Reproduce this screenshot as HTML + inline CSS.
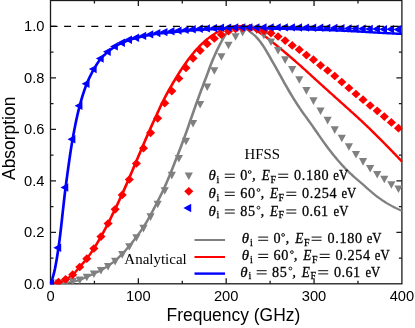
<!DOCTYPE html>
<html><head><meta charset="utf-8"><title>chart</title>
<style>html,body{margin:0;padding:0;background:#fff}svg{display:block;will-change:transform}text{white-space:pre}</style></head>
<body>
<svg width="415" height="328" viewBox="0 0 415 328">
<rect width="415" height="328" fill="#fff"/>
<defs><clipPath id="cp"><rect x="49.9" y="-0.09999999999999998" width="352.59999999999997" height="284.5"/></clipPath></defs>
<rect x="50.5" y="0.5" width="351.4" height="283.3" fill="none" stroke="#1a1a1a" stroke-width="1.3"/>
<path d="M94.42,283.8 v-3 M94.42,0.5 v3 M138.35,283.8 v-5.5 M138.35,0.5 v5.5 M182.28,283.8 v-3 M182.28,0.5 v3 M226.20,283.8 v-5.5 M226.20,0.5 v5.5 M270.12,283.8 v-3 M270.12,0.5 v3 M314.05,283.8 v-5.5 M314.05,0.5 v5.5 M357.97,283.8 v-3 M357.97,0.5 v3 M50.5,258.05 h3 M401.9,258.05 h-3 M50.5,232.30 h5.5 M401.9,232.30 h-5.5 M50.5,206.55 h3 M401.9,206.55 h-3 M50.5,180.80 h5.5 M401.9,180.80 h-5.5 M50.5,155.05 h3 M401.9,155.05 h-3 M50.5,129.30 h5.5 M401.9,129.30 h-5.5 M50.5,103.55 h3 M401.9,103.55 h-3 M50.5,77.80 h5.5 M401.9,77.80 h-5.5 M50.5,52.05 h3 M401.9,52.05 h-3 M50.5,26.30 h5.5 M401.9,26.30 h-5.5" stroke="#1a1a1a" stroke-width="1.3" fill="none"/>
<g clip-path="url(#cp)">
<g transform="scale(1.35,1)"><path d="M37.41,283.50 L38.06,283.47 L38.71,283.45 L39.36,283.42 L40.02,283.39 L40.67,283.35 L41.32,283.32 L41.97,283.28 L42.63,283.24 L43.28,283.20 L43.93,283.16 L44.58,283.12 L45.24,283.08 L45.89,283.04 L46.54,282.99 L47.19,282.94 L47.85,282.88 L48.50,282.81 L49.15,282.73 L49.80,282.64 L50.45,282.53 L51.11,282.41 L51.76,282.27 L52.41,282.13 L53.06,281.98 L53.72,281.82 L54.37,281.64 L55.02,281.45 L55.67,281.23 L56.33,281.00 L56.98,280.75 L57.63,280.50 L58.28,280.22 L58.94,279.94 L59.59,279.65 L60.24,279.33 L60.89,278.98 L61.55,278.62 L62.20,278.24 L62.85,277.86 L63.50,277.47 L64.15,277.08 L64.81,276.70 L65.46,276.30 L66.11,275.90 L66.76,275.49 L67.42,275.07 L68.07,274.65 L68.72,274.23 L69.37,273.82 L70.03,273.40 L70.68,273.00 L71.33,272.60 L71.98,272.19 L72.64,271.78 L73.29,271.36 L73.94,270.92 L74.59,270.46 L75.24,269.97 L75.90,269.46 L76.55,268.91 L77.20,268.35 L77.85,267.76 L78.51,267.17 L79.16,266.57 L79.81,265.97 L80.46,265.37 L81.12,264.78 L81.77,264.17 L82.42,263.56 L83.07,262.94 L83.73,262.29 L84.38,261.63 L85.03,260.93 L85.68,260.21 L86.34,259.44 L86.99,258.64 L87.64,257.80 L88.29,256.94 L88.94,256.07 L89.60,255.18 L90.25,254.27 L90.90,253.36 L91.55,252.44 L92.21,251.49 L92.86,250.52 L93.51,249.54 L94.16,248.54 L94.82,247.52 L95.47,246.49 L96.12,245.45 L96.77,244.38 L97.43,243.30 L98.08,242.20 L98.73,241.08 L99.38,239.94 L100.04,238.79 L100.69,237.63 L101.34,236.45 L101.99,235.27 L102.64,234.08 L103.30,232.88 L103.95,231.65 L104.60,230.40 L105.25,229.12 L105.91,227.81 L106.56,226.45 L107.21,225.04 L107.86,223.58 L108.52,222.09 L109.17,220.57 L109.82,219.02 L110.47,217.45 L111.13,215.87 L111.78,214.28 L112.43,212.66 L113.08,211.02 L113.73,209.36 L114.39,207.68 L115.04,205.99 L115.69,204.28 L116.34,202.55 L117.00,200.82 L117.65,199.09 L118.30,197.34 L118.95,195.59 L119.61,193.81 L120.26,192.01 L120.91,190.17 L121.56,188.29 L122.22,186.35 L122.87,184.36 L123.52,182.31 L124.17,180.22 L124.83,178.09 L125.48,175.93 L126.13,173.76 L126.78,171.59 L127.43,169.42 L128.09,167.23 L128.74,165.04 L129.39,162.82 L130.04,160.59 L130.70,158.35 L131.35,156.09 L132.00,153.81 L132.65,151.52 L133.31,149.22 L133.96,146.91 L134.61,144.57 L135.26,142.23 L135.92,139.86 L136.57,137.48 L137.22,135.07 L137.87,132.65 L138.53,130.18 L139.18,127.68 L139.83,125.16 L140.48,122.61 L141.13,120.07 L141.79,117.53 L142.44,115.01 L143.09,112.51 L143.74,110.02 L144.40,107.54 L145.05,105.06 L145.70,102.60 L146.35,100.14 L147.01,97.71 L147.66,95.30 L148.31,92.91 L148.96,90.56 L149.62,88.24 L150.27,85.94 L150.92,83.64 L151.57,81.35 L152.22,79.04 L152.88,76.71 L153.53,74.33 L154.18,71.92 L154.83,69.50 L155.49,67.12 L156.14,64.79 L156.79,62.55 L157.44,60.40 L158.10,58.32 L158.75,56.29 L159.40,54.29 L160.05,52.34 L160.71,50.44 L161.36,48.60 L162.01,46.81 L162.66,45.08 L163.32,43.41 L163.97,41.75 L164.62,40.13 L165.27,38.57 L165.92,37.07 L166.58,35.66 L167.23,34.35 L167.88,33.15 L168.53,32.00 L169.19,30.94 L169.84,30.02 L170.49,29.28 L171.14,28.63 L171.80,28.05 L172.45,27.56 L173.10,27.19 L173.75,26.95 L174.41,26.73 L175.06,26.56 L175.71,26.44 L176.36,26.40 L177.01,26.45 L177.67,26.56 L178.32,26.72 L178.97,26.91 L179.62,27.13 L180.28,27.45 L180.93,27.86 L181.58,28.32 L182.23,28.81 L182.89,29.36 L183.54,29.99 L184.19,30.68 L184.84,31.39 L185.50,32.10 L186.15,32.78 L186.80,33.44 L187.45,34.11 L188.11,34.82 L188.76,35.61 L189.41,36.46 L190.06,37.39 L190.71,38.37 L191.37,39.40 L192.02,40.46 L192.67,41.57 L193.32,42.74 L193.98,43.97 L194.63,45.25 L195.28,46.57 L195.93,47.93 L196.59,49.34 L197.24,50.82 L197.89,52.33 L198.54,53.88 L199.20,55.43 L199.85,56.97 L200.50,58.50 L201.15,60.02 L201.81,61.56 L202.46,63.09 L203.11,64.64 L203.76,66.18 L204.41,67.74 L205.07,69.30 L205.72,70.86 L206.37,72.43 L207.02,74.03 L207.68,75.63 L208.33,77.23 L208.98,78.84 L209.63,80.44 L210.29,82.02 L210.94,83.59 L211.59,85.14 L212.24,86.68 L212.90,88.22 L213.55,89.74 L214.20,91.26 L214.85,92.75 L215.50,94.23 L216.16,95.69 L216.81,97.13 L217.46,98.55 L218.11,99.96 L218.77,101.36 L219.42,102.74 L220.07,104.11 L220.72,105.46 L221.38,106.79 L222.03,108.11 L222.68,109.41 L223.33,110.69 L223.99,111.94 L224.64,113.18 L225.29,114.41 L225.94,115.63 L226.60,116.84 L227.25,118.04 L227.90,119.25 L228.55,120.46 L229.20,121.67 L229.86,122.89 L230.51,124.13 L231.16,125.38 L231.81,126.65 L232.47,127.93 L233.12,129.22 L233.77,130.51 L234.42,131.80 L235.08,133.08 L235.73,134.37 L236.38,135.64 L237.03,136.89 L237.69,138.14 L238.34,139.39 L238.99,140.64 L239.64,141.88 L240.29,143.11 L240.95,144.33 L241.60,145.54 L242.25,146.73 L242.90,147.90 L243.56,149.06 L244.21,150.20 L244.86,151.33 L245.51,152.45 L246.17,153.56 L246.82,154.66 L247.47,155.74 L248.12,156.81 L248.78,157.87 L249.43,158.91 L250.08,159.94 L250.73,160.96 L251.39,161.97 L252.04,162.98 L252.69,163.97 L253.34,164.94 L253.99,165.91 L254.65,166.86 L255.30,167.79 L255.95,168.71 L256.60,169.61 L257.26,170.50 L257.91,171.36 L258.56,172.21 L259.21,173.05 L259.87,173.88 L260.52,174.69 L261.17,175.50 L261.82,176.29 L262.48,177.09 L263.13,177.87 L263.78,178.66 L264.43,179.43 L265.09,180.18 L265.74,180.92 L266.39,181.66 L267.04,182.40 L267.69,183.14 L268.35,183.89 L269.00,184.64 L269.65,185.42 L270.30,186.21 L270.96,187.02 L271.61,187.84 L272.26,188.64 L272.91,189.42 L273.57,190.18 L274.22,190.94 L274.87,191.70 L275.52,192.45 L276.18,193.18 L276.83,193.91 L277.48,194.63 L278.13,195.33 L278.78,196.01 L279.44,196.68 L280.09,197.33 L280.74,197.97 L281.39,198.60 L282.05,199.21 L282.70,199.82 L283.35,200.41 L284.00,200.99 L284.66,201.56 L285.31,202.12 L285.96,202.66 L286.61,203.20 L287.27,203.72 L287.92,204.24 L288.57,204.74 L289.22,205.24 L289.88,205.73 L290.53,206.20 L291.18,206.67 L291.83,207.13 L292.48,207.58 L293.14,208.02 L293.79,208.45 L294.44,208.86 L295.09,209.27 L295.75,209.67 L296.40,210.06 L297.05,210.43 L297.70,210.80" fill="none" stroke="#808080" stroke-width="2.0" stroke-linejoin="round"/></g>
<g transform="scale(1.35,1)"><path d="M37.41,283.50 L38.06,283.45 L38.71,283.38 L39.37,283.27 L40.02,283.13 L40.67,282.98 L41.32,282.81 L41.98,282.62 L42.63,282.42 L43.28,282.22 L43.93,281.99 L44.59,281.71 L45.24,281.39 L45.89,281.03 L46.54,280.64 L47.20,280.23 L47.85,279.80 L48.50,279.36 L49.15,278.91 L49.81,278.42 L50.46,277.90 L51.11,277.34 L51.76,276.75 L52.42,276.12 L53.07,275.46 L53.72,274.76 L54.37,274.00 L55.03,273.15 L55.68,272.22 L56.33,271.24 L56.98,270.22 L57.64,269.19 L58.29,268.16 L58.94,267.15 L59.59,266.16 L60.25,265.17 L60.90,264.18 L61.55,263.17 L62.20,262.15 L62.86,261.11 L63.51,260.04 L64.16,258.93 L64.81,257.79 L65.47,256.60 L66.12,255.38 L66.77,254.13 L67.43,252.85 L68.08,251.54 L68.73,250.21 L69.38,248.86 L70.04,247.49 L70.69,246.08 L71.34,244.65 L71.99,243.18 L72.65,241.69 L73.30,240.18 L73.95,238.65 L74.60,237.10 L75.26,235.54 L75.91,233.95 L76.56,232.33 L77.21,230.69 L77.87,229.03 L78.52,227.35 L79.17,225.66 L79.82,223.96 L80.48,222.25 L81.13,220.52 L81.78,218.77 L82.43,217.01 L83.09,215.23 L83.74,213.43 L84.39,211.63 L85.04,209.81 L85.70,207.98 L86.35,206.13 L87.00,204.27 L87.65,202.40 L88.31,200.51 L88.96,198.61 L89.61,196.69 L90.26,194.76 L90.92,192.81 L91.57,190.84 L92.22,188.85 L92.87,186.84 L93.53,184.82 L94.18,182.79 L94.83,180.76 L95.49,178.72 L96.14,176.67 L96.79,174.61 L97.44,172.54 L98.10,170.46 L98.75,168.38 L99.40,166.30 L100.05,164.22 L100.71,162.14 L101.36,160.07 L102.01,157.99 L102.66,155.91 L103.32,153.83 L103.97,151.76 L104.62,149.69 L105.27,147.62 L105.93,145.57 L106.58,143.51 L107.23,141.45 L107.88,139.40 L108.54,137.36 L109.19,135.32 L109.84,133.30 L110.49,131.30 L111.15,129.32 L111.80,127.35 L112.45,125.39 L113.10,123.44 L113.76,121.51 L114.41,119.58 L115.06,117.66 L115.71,115.75 L116.37,113.84 L117.02,111.91 L117.67,110.00 L118.32,108.09 L118.98,106.21 L119.63,104.36 L120.28,102.55 L120.93,100.78 L121.59,99.04 L122.24,97.33 L122.89,95.65 L123.54,94.00 L124.20,92.36 L124.85,90.75 L125.50,89.16 L126.16,87.60 L126.81,86.05 L127.46,84.53 L128.11,83.03 L128.77,81.54 L129.42,80.07 L130.07,78.62 L130.72,77.19 L131.38,75.76 L132.03,74.35 L132.68,72.94 L133.33,71.55 L133.99,70.18 L134.64,68.83 L135.29,67.50 L135.94,66.19 L136.60,64.92 L137.25,63.66 L137.90,62.42 L138.55,61.20 L139.21,60.00 L139.86,58.83 L140.51,57.67 L141.16,56.54 L141.82,55.43 L142.47,54.34 L143.12,53.26 L143.77,52.21 L144.43,51.17 L145.08,50.16 L145.73,49.17 L146.38,48.21 L147.04,47.27 L147.69,46.36 L148.34,45.46 L148.99,44.58 L149.65,43.72 L150.30,42.89 L150.95,42.08 L151.60,41.29 L152.26,40.53 L152.91,39.78 L153.56,39.05 L154.22,38.33 L154.87,37.64 L155.52,36.97 L156.17,36.32 L156.83,35.70 L157.48,35.10 L158.13,34.52 L158.78,33.95 L159.44,33.40 L160.09,32.87 L160.74,32.37 L161.39,31.88 L162.05,31.42 L162.70,30.98 L163.35,30.55 L164.00,30.13 L164.66,29.73 L165.31,29.35 L165.96,28.99 L166.61,28.66 L167.27,28.36 L167.92,28.09 L168.57,27.82 L169.22,27.56 L169.88,27.32 L170.53,27.10 L171.18,26.90 L171.83,26.74 L172.49,26.62 L173.14,26.52 L173.79,26.43 L174.44,26.34 L175.10,26.26 L175.75,26.20 L176.40,26.15 L177.05,26.11 L177.71,26.10 L178.36,26.11 L179.01,26.16 L179.66,26.24 L180.32,26.34 L180.97,26.46 L181.62,26.59 L182.28,26.74 L182.93,26.90 L183.58,27.07 L184.23,27.29 L184.89,27.57 L185.54,27.90 L186.19,28.26 L186.84,28.66 L187.50,29.08 L188.15,29.51 L188.80,29.94 L189.45,30.38 L190.11,30.86 L190.76,31.37 L191.41,31.91 L192.06,32.46 L192.72,33.04 L193.37,33.64 L194.02,34.24 L194.67,34.86 L195.33,35.48 L195.98,36.10 L196.63,36.72 L197.28,37.35 L197.94,38.00 L198.59,38.66 L199.24,39.33 L199.89,40.01 L200.55,40.71 L201.20,41.41 L201.85,42.11 L202.50,42.82 L203.16,43.54 L203.81,44.26 L204.46,44.98 L205.11,45.70 L205.77,46.42 L206.42,47.14 L207.07,47.86 L207.72,48.58 L208.38,49.31 L209.03,50.04 L209.68,50.77 L210.34,51.50 L210.99,52.24 L211.64,52.99 L212.29,53.73 L212.95,54.48 L213.60,55.23 L214.25,55.98 L214.90,56.73 L215.56,57.49 L216.21,58.25 L216.86,59.01 L217.51,59.78 L218.17,60.54 L218.82,61.31 L219.47,62.08 L220.12,62.85 L220.78,63.62 L221.43,64.39 L222.08,65.17 L222.73,65.95 L223.39,66.74 L224.04,67.53 L224.69,68.32 L225.34,69.12 L226.00,69.91 L226.65,70.71 L227.30,71.51 L227.95,72.32 L228.61,73.12 L229.26,73.92 L229.91,74.73 L230.56,75.54 L231.22,76.34 L231.87,77.15 L232.52,77.95 L233.17,78.76 L233.83,79.56 L234.48,80.37 L235.13,81.17 L235.78,81.97 L236.44,82.77 L237.09,83.56 L237.74,84.36 L238.40,85.15 L239.05,85.95 L239.70,86.74 L240.35,87.53 L241.01,88.32 L241.66,89.12 L242.31,89.91 L242.96,90.70 L243.62,91.49 L244.27,92.28 L244.92,93.07 L245.57,93.86 L246.23,94.66 L246.88,95.45 L247.53,96.24 L248.18,97.03 L248.84,97.83 L249.49,98.62 L250.14,99.41 L250.79,100.21 L251.45,101.00 L252.10,101.80 L252.75,102.60 L253.40,103.39 L254.06,104.18 L254.71,104.97 L255.36,105.76 L256.01,106.55 L256.67,107.34 L257.32,108.13 L257.97,108.92 L258.62,109.71 L259.28,110.50 L259.93,111.30 L260.58,112.09 L261.23,112.88 L261.89,113.68 L262.54,114.47 L263.19,115.27 L263.84,116.08 L264.50,116.88 L265.15,117.69 L265.80,118.49 L266.46,119.31 L267.11,120.12 L267.76,120.94 L268.41,121.76 L269.07,122.59 L269.72,123.42 L270.37,124.26 L271.02,125.10 L271.68,125.94 L272.33,126.79 L272.98,127.64 L273.63,128.49 L274.29,129.35 L274.94,130.21 L275.59,131.07 L276.24,131.94 L276.90,132.80 L277.55,133.67 L278.20,134.55 L278.85,135.42 L279.51,136.30 L280.16,137.18 L280.81,138.06 L281.46,138.94 L282.12,139.82 L282.77,140.71 L283.42,141.60 L284.07,142.49 L284.73,143.37 L285.38,144.26 L286.03,145.16 L286.68,146.05 L287.34,146.95 L287.99,147.85 L288.64,148.75 L289.29,149.65 L289.95,150.56 L290.60,151.47 L291.25,152.38 L291.90,153.29 L292.56,154.21 L293.21,155.12 L293.86,156.04 L294.51,156.96 L295.17,157.89 L295.82,158.81 L296.47,159.74 L297.13,160.67 L297.78,161.60" fill="none" stroke="#ff0000" stroke-width="2.05" stroke-linejoin="round"/></g>
<g transform="scale(1.1,1)"><path d="M45.91,283.50 L46.71,281.57 L47.51,279.09 L48.31,276.18 L49.11,272.91 L49.91,269.08 L50.71,264.55 L51.52,259.45 L52.32,253.95 L53.12,248.18 L53.92,241.92 L54.72,234.88 L55.52,227.28 L56.32,219.33 L57.12,211.25 L57.92,203.27 L58.72,195.59 L59.52,188.45 L60.32,181.76 L61.13,175.15 L61.93,168.66 L62.73,162.33 L63.53,156.22 L64.33,150.38 L65.13,144.85 L65.93,139.68 L66.73,134.81 L67.53,130.13 L68.33,125.63 L69.13,121.33 L69.94,117.23 L70.74,113.35 L71.54,109.68 L72.34,106.23 L73.14,102.99 L73.94,99.89 L74.74,96.93 L75.54,94.11 L76.34,91.43 L77.14,88.89 L77.94,86.48 L78.74,84.20 L79.55,82.05 L80.35,80.00 L81.15,78.05 L81.95,76.19 L82.75,74.41 L83.55,72.71 L84.35,71.08 L85.15,69.51 L85.95,67.99 L86.75,66.51 L87.55,65.07 L88.35,63.69 L89.16,62.37 L89.96,61.12 L90.76,59.94 L91.56,58.84 L92.36,57.82 L93.16,56.86 L93.96,55.96 L94.76,55.11 L95.56,54.29 L96.36,53.50 L97.16,52.74 L97.97,52.00 L98.77,51.27 L99.57,50.55 L100.37,49.86 L101.17,49.18 L101.97,48.53 L102.77,47.90 L103.57,47.31 L104.37,46.74 L105.17,46.21 L105.97,45.70 L106.77,45.21 L107.58,44.75 L108.38,44.30 L109.18,43.87 L109.98,43.46 L110.78,43.05 L111.58,42.66 L112.38,42.28 L113.18,41.91 L113.98,41.55 L114.78,41.20 L115.58,40.87 L116.39,40.55 L117.19,40.23 L117.99,39.94 L118.79,39.65 L119.59,39.38 L120.39,39.11 L121.19,38.85 L121.99,38.60 L122.79,38.36 L123.59,38.12 L124.39,37.89 L125.19,37.66 L126.00,37.44 L126.80,37.22 L127.60,37.01 L128.40,36.81 L129.20,36.61 L130.00,36.41 L130.80,36.22 L131.60,36.03 L132.40,35.85 L133.20,35.67 L134.00,35.49 L134.81,35.32 L135.61,35.15 L136.41,34.98 L137.21,34.82 L138.01,34.66 L138.81,34.50 L139.61,34.34 L140.41,34.18 L141.21,34.03 L142.01,33.89 L142.81,33.77 L143.61,33.65 L144.42,33.55 L145.22,33.45 L146.02,33.35 L146.82,33.26 L147.62,33.17 L148.42,33.09 L149.22,33.01 L150.02,32.93 L150.82,32.85 L151.62,32.77 L152.42,32.70 L153.23,32.62 L154.03,32.54 L154.83,32.46 L155.63,32.38 L156.43,32.29 L157.23,32.20 L158.03,32.12 L158.83,32.02 L159.63,31.93 L160.43,31.84 L161.23,31.75 L162.03,31.65 L162.84,31.56 L163.64,31.47 L164.44,31.38 L165.24,31.29 L166.04,31.20 L166.84,31.12 L167.64,31.04 L168.44,30.96 L169.24,30.89 L170.04,30.81 L170.84,30.74 L171.65,30.67 L172.45,30.60 L173.25,30.53 L174.05,30.47 L174.85,30.40 L175.65,30.34 L176.45,30.28 L177.25,30.21 L178.05,30.16 L178.85,30.10 L179.65,30.04 L180.45,29.99 L181.26,29.94 L182.06,29.89 L182.86,29.84 L183.66,29.79 L184.46,29.74 L185.26,29.69 L186.06,29.65 L186.86,29.60 L187.66,29.56 L188.46,29.52 L189.26,29.48 L190.06,29.44 L190.87,29.40 L191.67,29.36 L192.47,29.32 L193.27,29.29 L194.07,29.25 L194.87,29.22 L195.67,29.19 L196.47,29.16 L197.27,29.13 L198.07,29.11 L198.87,29.08 L199.68,29.05 L200.48,29.03 L201.28,29.00 L202.08,28.98 L202.88,28.95 L203.68,28.93 L204.48,28.91 L205.28,28.89 L206.08,28.87 L206.88,28.85 L207.68,28.83 L208.48,28.81 L209.29,28.80 L210.09,28.78 L210.89,28.76 L211.69,28.75 L212.49,28.73 L213.29,28.72 L214.09,28.70 L214.89,28.68 L215.69,28.67 L216.49,28.66 L217.29,28.64 L218.10,28.63 L218.90,28.62 L219.70,28.61 L220.50,28.61 L221.30,28.60 L222.10,28.60 L222.90,28.60 L223.70,28.60 L224.50,28.60 L225.30,28.60 L226.10,28.60 L226.90,28.60 L227.71,28.60 L228.51,28.60 L229.31,28.60 L230.11,28.60 L230.91,28.60 L231.71,28.60 L232.51,28.60 L233.31,28.60 L234.11,28.60 L234.91,28.60 L235.71,28.60 L236.52,28.60 L237.32,28.60 L238.12,28.60 L238.92,28.60 L239.72,28.61 L240.52,28.61 L241.32,28.62 L242.12,28.62 L242.92,28.63 L243.72,28.64 L244.52,28.64 L245.32,28.65 L246.13,28.66 L246.93,28.67 L247.73,28.68 L248.53,28.68 L249.33,28.69 L250.13,28.70 L250.93,28.71 L251.73,28.72 L252.53,28.74 L253.33,28.75 L254.13,28.77 L254.94,28.78 L255.74,28.80 L256.54,28.82 L257.34,28.84 L258.14,28.86 L258.94,28.88 L259.74,28.90 L260.54,28.92 L261.34,28.94 L262.14,28.96 L262.94,28.98 L263.74,29.00 L264.55,29.02 L265.35,29.04 L266.15,29.07 L266.95,29.09 L267.75,29.11 L268.55,29.14 L269.35,29.16 L270.15,29.18 L270.95,29.21 L271.75,29.23 L272.55,29.26 L273.35,29.28 L274.16,29.31 L274.96,29.33 L275.76,29.35 L276.56,29.38 L277.36,29.40 L278.16,29.43 L278.96,29.45 L279.76,29.47 L280.56,29.49 L281.36,29.52 L282.16,29.54 L282.97,29.56 L283.77,29.58 L284.57,29.60 L285.37,29.63 L286.17,29.65 L286.97,29.67 L287.77,29.70 L288.57,29.72 L289.37,29.75 L290.17,29.77 L290.97,29.80 L291.77,29.83 L292.58,29.86 L293.38,29.89 L294.18,29.92 L294.98,29.95 L295.78,29.99 L296.58,30.02 L297.38,30.05 L298.18,30.09 L298.98,30.12 L299.78,30.16 L300.58,30.19 L301.39,30.23 L302.19,30.27 L302.99,30.31 L303.79,30.34 L304.59,30.38 L305.39,30.42 L306.19,30.46 L306.99,30.50 L307.79,30.54 L308.59,30.58 L309.39,30.61 L310.19,30.65 L311.00,30.69 L311.80,30.74 L312.60,30.78 L313.40,30.82 L314.20,30.86 L315.00,30.90 L315.80,30.94 L316.60,30.99 L317.40,31.03 L318.20,31.08 L319.00,31.12 L319.81,31.17 L320.61,31.21 L321.41,31.26 L322.21,31.30 L323.01,31.35 L323.81,31.39 L324.61,31.44 L325.41,31.49 L326.21,31.54 L327.01,31.58 L327.81,31.63 L328.61,31.68 L329.42,31.73 L330.22,31.78 L331.02,31.84 L331.82,31.89 L332.62,31.94 L333.42,32.00 L334.22,32.05 L335.02,32.11 L335.82,32.16 L336.62,32.22 L337.42,32.27 L338.23,32.33 L339.03,32.38 L339.83,32.44 L340.63,32.49 L341.43,32.54 L342.23,32.60 L343.03,32.65 L343.83,32.70 L344.63,32.75 L345.43,32.80 L346.23,32.85 L347.03,32.89 L347.84,32.94 L348.64,32.99 L349.44,33.04 L350.24,33.08 L351.04,33.13 L351.84,33.17 L352.64,33.22 L353.44,33.26 L354.24,33.31 L355.04,33.35 L355.84,33.40 L356.65,33.44 L357.45,33.49 L358.25,33.53 L359.05,33.57 L359.85,33.61 L360.65,33.66 L361.45,33.70 L362.25,33.74 L363.05,33.78 L363.85,33.82 L364.65,33.86 L365.45,33.90" fill="none" stroke="#0000ff" stroke-width="2.45" stroke-linejoin="round"/></g>
<g fill="#808080"><path d="M54.38,279.40 L62.58,279.40 L58.48,287.00Z"/><path d="M61.47,279.00 L69.67,279.00 L65.57,286.60Z"/><path d="M68.55,278.00 L76.75,278.00 L72.65,285.60Z"/><path d="M75.63,276.60 L83.83,276.60 L79.73,284.20Z"/><path d="M82.72,273.70 L90.91,273.70 L86.81,281.30Z"/><path d="M89.80,270.40 L98.00,270.40 L93.90,278.00Z"/><path d="M96.88,267.00 L105.08,267.00 L100.98,274.60Z"/><path d="M103.96,263.00 L112.16,263.00 L108.06,270.60Z"/><path d="M111.05,257.80 L119.25,257.80 L115.15,265.40Z"/><path d="M118.13,251.10 L126.33,251.10 L122.23,258.70Z"/><path d="M125.21,243.20 L133.41,243.20 L129.31,250.80Z"/><path d="M132.30,234.20 L140.50,234.20 L136.40,241.80Z"/><path d="M139.38,224.80 L147.58,224.80 L143.48,232.40Z"/><path d="M146.46,213.30 L154.66,213.30 L150.56,220.90Z"/><path d="M153.55,200.70 L161.75,200.70 L157.65,208.30Z"/><path d="M160.63,187.20 L168.83,187.20 L164.73,194.80Z"/><path d="M167.71,171.80 L175.91,171.80 L171.81,179.40Z"/><path d="M174.79,155.00 L182.99,155.00 L178.89,162.60Z"/><path d="M181.88,137.70 L190.08,137.70 L185.98,145.30Z"/><path d="M188.96,119.90 L197.16,119.90 L193.06,127.50Z"/><path d="M196.04,100.90 L204.24,100.90 L200.14,108.50Z"/><path d="M203.13,83.40 L211.33,83.40 L207.23,91.00Z"/><path d="M210.21,67.20 L218.41,67.20 L214.31,74.80Z"/><path d="M217.29,53.20 L225.49,53.20 L221.39,60.80Z"/><path d="M224.38,41.70 L232.58,41.70 L228.48,49.30Z"/><path d="M231.46,33.20 L239.66,33.20 L235.56,40.80Z"/><path d="M238.54,28.80 L246.74,28.80 L242.64,36.40Z"/><path d="M245.62,25.20 L253.82,25.20 L249.72,32.80Z"/><path d="M252.71,26.70 L260.91,26.70 L256.81,34.30Z"/><path d="M259.79,31.70 L267.99,31.70 L263.89,39.30Z"/><path d="M266.87,38.40 L275.07,38.40 L270.97,46.00Z"/><path d="M273.96,46.90 L282.16,46.90 L278.06,54.50Z"/><path d="M281.04,56.30 L289.24,56.30 L285.14,63.90Z"/><path d="M288.12,66.10 L296.32,66.10 L292.22,73.70Z"/><path d="M295.20,76.20 L303.41,76.20 L299.31,83.80Z"/><path d="M302.29,87.10 L310.49,87.10 L306.39,94.70Z"/><path d="M309.37,97.30 L317.57,97.30 L313.47,104.90Z"/><path d="M316.45,107.40 L324.65,107.40 L320.55,115.00Z"/><path d="M323.54,116.80 L331.74,116.80 L327.64,124.40Z"/><path d="M330.62,126.30 L338.82,126.30 L334.72,133.90Z"/><path d="M337.70,134.70 L345.90,134.70 L341.80,142.30Z"/><path d="M344.79,143.20 L352.99,143.20 L348.89,150.80Z"/><path d="M351.87,150.90 L360.07,150.90 L355.97,158.50Z"/><path d="M358.95,158.10 L367.15,158.10 L363.05,165.70Z"/><path d="M366.03,164.90 L374.24,164.90 L370.13,172.50Z"/><path d="M373.12,170.90 L381.32,170.90 L377.22,178.50Z"/><path d="M380.20,175.70 L388.40,175.70 L384.30,183.30Z"/><path d="M387.28,181.20 L395.48,181.20 L391.38,188.80Z"/><path d="M394.37,185.50 L402.57,185.50 L398.47,193.10Z"/></g>
<g fill="#ff0000"><path d="M53.93,282.20 L58.48,277.85 L63.03,282.20 L58.48,286.55Z"/><path d="M61.02,279.30 L65.57,274.95 L70.12,279.30 L65.57,283.65Z"/><path d="M68.10,274.70 L72.65,270.35 L77.20,274.70 L72.65,279.05Z"/><path d="M75.18,267.00 L79.73,262.65 L84.28,267.00 L79.73,271.35Z"/><path d="M82.27,258.70 L86.81,254.35 L91.36,258.70 L86.81,263.05Z"/><path d="M89.35,248.50 L93.90,244.15 L98.45,248.50 L93.90,252.85Z"/><path d="M96.43,236.60 L100.98,232.25 L105.53,236.60 L100.98,240.95Z"/><path d="M103.51,223.50 L108.06,219.15 L112.61,223.50 L108.06,227.85Z"/><path d="M110.60,209.30 L115.15,204.95 L119.70,209.30 L115.15,213.65Z"/><path d="M117.68,194.90 L122.23,190.55 L126.78,194.90 L122.23,199.25Z"/><path d="M124.76,179.50 L129.31,175.15 L133.86,179.50 L129.31,183.85Z"/><path d="M131.85,163.50 L136.40,159.15 L140.95,163.50 L136.40,167.85Z"/><path d="M138.93,148.20 L143.48,143.85 L148.03,148.20 L143.48,152.55Z"/><path d="M146.01,132.80 L150.56,128.45 L155.11,132.80 L150.56,137.15Z"/><path d="M153.09,118.30 L157.65,113.95 L162.20,118.30 L157.65,122.65Z"/><path d="M160.18,103.20 L164.73,98.85 L169.28,103.20 L164.73,107.55Z"/><path d="M167.26,91.10 L171.81,86.75 L176.36,91.10 L171.81,95.45Z"/><path d="M174.34,78.50 L178.89,74.15 L183.44,78.50 L178.89,82.85Z"/><path d="M181.43,67.90 L185.98,63.55 L190.53,67.90 L185.98,72.25Z"/><path d="M188.51,58.30 L193.06,53.95 L197.61,58.30 L193.06,62.65Z"/><path d="M195.59,50.60 L200.14,46.25 L204.69,50.60 L200.14,54.95Z"/><path d="M202.68,43.90 L207.23,39.55 L211.78,43.90 L207.23,48.25Z"/><path d="M209.76,38.50 L214.31,34.15 L218.86,38.50 L214.31,42.85Z"/><path d="M216.84,34.70 L221.39,30.35 L225.94,34.70 L221.39,39.05Z"/><path d="M223.93,31.20 L228.48,26.85 L233.03,31.20 L228.48,35.55Z"/><path d="M231.01,29.00 L235.56,24.65 L240.11,29.00 L235.56,33.35Z"/><path d="M238.09,28.00 L242.64,23.65 L247.19,28.00 L242.64,32.35Z"/><path d="M245.17,28.00 L249.72,23.65 L254.27,28.00 L249.72,32.35Z"/><path d="M252.26,28.80 L256.81,24.45 L261.36,28.80 L256.81,33.15Z"/><path d="M259.34,30.80 L263.89,26.45 L268.44,30.80 L263.89,35.15Z"/><path d="M266.42,33.20 L270.97,28.85 L275.52,33.20 L270.97,37.55Z"/><path d="M273.51,36.50 L278.06,32.15 L282.61,36.50 L278.06,40.85Z"/><path d="M280.59,40.60 L285.14,36.25 L289.69,40.60 L285.14,44.95Z"/><path d="M287.67,45.40 L292.22,41.05 L296.77,45.40 L292.22,49.75Z"/><path d="M294.75,49.70 L299.31,45.35 L303.86,49.70 L299.31,54.05Z"/><path d="M301.84,55.10 L306.39,50.75 L310.94,55.10 L306.39,59.45Z"/><path d="M308.92,59.70 L313.47,55.35 L318.02,59.70 L313.47,64.05Z"/><path d="M316.00,65.30 L320.55,60.95 L325.10,65.30 L320.55,69.65Z"/><path d="M323.09,70.50 L327.64,66.15 L332.19,70.50 L327.64,74.85Z"/><path d="M330.17,76.00 L334.72,71.65 L339.27,76.00 L334.72,80.35Z"/><path d="M337.25,82.00 L341.80,77.65 L346.35,82.00 L341.80,86.35Z"/><path d="M344.34,88.00 L348.89,83.65 L353.44,88.00 L348.89,92.35Z"/><path d="M351.42,94.00 L355.97,89.65 L360.52,94.00 L355.97,98.35Z"/><path d="M358.50,99.70 L363.05,95.35 L367.60,99.70 L363.05,104.05Z"/><path d="M365.58,105.50 L370.13,101.15 L374.69,105.50 L370.13,109.85Z"/><path d="M372.67,110.80 L377.22,106.45 L381.77,110.80 L377.22,115.15Z"/><path d="M379.75,116.60 L384.30,112.25 L388.85,116.60 L384.30,120.95Z"/><path d="M386.83,122.40 L391.38,118.05 L395.93,122.40 L391.38,126.75Z"/><path d="M393.92,128.20 L398.47,123.85 L403.02,128.20 L398.47,132.55Z"/></g>
<g fill="#0000ff"><path d="M54.10,279.20 L54.10,287.60 L46.30,283.40Z"/><path d="M61.18,243.50 L61.18,251.90 L53.38,247.70Z"/><path d="M68.27,183.30 L68.27,191.70 L60.47,187.50Z"/><path d="M75.35,135.05 L75.35,143.45 L67.55,139.25Z"/><path d="M82.43,101.55 L82.43,109.95 L74.63,105.75Z"/><path d="M89.52,79.55 L89.52,87.95 L81.71,83.75Z"/><path d="M96.60,64.90 L96.60,73.30 L88.80,69.10Z"/><path d="M103.68,54.30 L103.68,62.70 L95.88,58.50Z"/><path d="M110.76,47.60 L110.76,56.00 L102.96,51.80Z"/><path d="M117.85,42.20 L117.85,50.60 L110.05,46.40Z"/><path d="M124.93,38.50 L124.93,46.90 L117.13,42.70Z"/><path d="M132.01,35.60 L132.01,44.00 L124.21,39.80Z"/><path d="M139.10,33.50 L139.10,41.90 L131.30,37.70Z"/><path d="M146.18,31.70 L146.18,40.10 L138.38,35.90Z"/><path d="M153.26,30.20 L153.26,38.60 L145.46,34.40Z"/><path d="M160.35,28.90 L160.35,37.30 L152.55,33.10Z"/><path d="M167.43,27.90 L167.43,36.30 L159.63,32.10Z"/><path d="M174.51,27.10 L174.51,35.50 L166.71,31.30Z"/><path d="M181.59,26.40 L181.59,34.80 L173.79,30.60Z"/><path d="M188.68,25.70 L188.68,34.10 L180.88,29.90Z"/><path d="M195.76,25.10 L195.76,33.50 L187.96,29.30Z"/><path d="M202.84,24.60 L202.84,33.00 L195.04,28.80Z"/><path d="M209.93,24.20 L209.93,32.60 L202.13,28.40Z"/><path d="M217.01,23.90 L217.01,32.30 L209.21,28.10Z"/><path d="M224.09,23.60 L224.09,32.00 L216.29,27.80Z"/><path d="M231.18,23.40 L231.18,31.80 L223.38,27.60Z"/><path d="M238.26,23.30 L238.26,31.70 L230.46,27.50Z"/><path d="M245.34,23.20 L245.34,31.60 L237.54,27.40Z"/><path d="M252.42,23.20 L252.42,31.60 L244.62,27.40Z"/><path d="M259.51,23.20 L259.51,31.60 L251.71,27.40Z"/><path d="M266.59,23.20 L266.59,31.60 L258.79,27.40Z"/><path d="M273.67,23.20 L273.67,31.60 L265.87,27.40Z"/><path d="M280.76,23.20 L280.76,31.60 L272.96,27.40Z"/><path d="M287.84,23.20 L287.84,31.60 L280.04,27.40Z"/><path d="M294.92,23.20 L294.92,31.60 L287.12,27.40Z"/><path d="M302.00,23.30 L302.00,31.70 L294.21,27.50Z"/><path d="M309.09,23.40 L309.09,31.80 L301.29,27.60Z"/><path d="M316.17,23.50 L316.17,31.90 L308.37,27.70Z"/><path d="M323.25,23.60 L323.25,32.00 L315.45,27.80Z"/><path d="M330.34,23.70 L330.34,32.10 L322.54,27.90Z"/><path d="M337.42,23.80 L337.42,32.20 L329.62,28.00Z"/><path d="M344.50,24.00 L344.50,32.40 L336.70,28.20Z"/><path d="M351.59,24.20 L351.59,32.60 L343.79,28.40Z"/><path d="M358.67,24.40 L358.67,32.80 L350.87,28.60Z"/><path d="M365.75,24.50 L365.75,32.90 L357.95,28.70Z"/><path d="M372.83,24.70 L372.83,33.10 L365.04,28.90Z"/><path d="M379.92,24.80 L379.92,33.20 L372.12,29.00Z"/><path d="M387.00,25.00 L387.00,33.40 L379.20,29.20Z"/><path d="M394.08,25.10 L394.08,33.50 L386.28,29.30Z"/><path d="M401.17,25.30 L401.17,33.70 L393.37,29.50Z"/></g>
<line x1="50.5" y1="26.3" x2="401.9" y2="26.3" stroke="#000" stroke-width="1.25" stroke-dasharray="7.0,6.6"/>
</g>
<g font-family="Liberation Sans, sans-serif" font-size="14.7" fill="#000">
<text x="50.50" y="301.4" text-anchor="middle">0</text>
<text x="138.35" y="301.4" text-anchor="middle">100</text>
<text x="226.20" y="301.4" text-anchor="middle">200</text>
<text x="314.05" y="301.4" text-anchor="middle">300</text>
<text x="401.90" y="301.4" text-anchor="middle">400</text>
<text x="44.5" y="288.50" text-anchor="end">0.0</text>
<text x="44.5" y="237.00" text-anchor="end">0.2</text>
<text x="44.5" y="185.50" text-anchor="end">0.4</text>
<text x="44.5" y="134.00" text-anchor="end">0.6</text>
<text x="44.5" y="82.50" text-anchor="end">0.8</text>
<text x="44.5" y="31.00" text-anchor="end">1.0</text>
</g>
<g font-family="Liberation Sans, sans-serif" font-size="17.45" fill="#000">
<text x="233.4" y="321.4" text-anchor="middle">Frequency (GHz)</text>
<text transform="translate(14.7,138.3) rotate(-90)" text-anchor="middle">Absorption</text>
</g>
<g font-family="Liberation Serif, serif" font-size="14.5" fill="#000">
<text x="244.5" y="158.5" font-size="14.8">HFSS</text>
<text x="124.3" y="264.2" font-size="15">Analytical</text>
<g font-size="14.2" stroke="#000" stroke-width="0.28"><text x="208.40" y="180" font-style="italic" font-size="14.9">θ</text><text x="216.50" y="182.6" font-size="10">i</text><path d="M224.80,174.20 h10 M224.80,177.40 h10" stroke="#000" stroke-width="0.95" fill="none"/><text x="240.20" y="180" letter-spacing="0">0</text><circle cx="249.70" cy="172.00" r="1.4" fill="none" stroke="#000" stroke-width="0.9"/><text x="252.10" y="180" font-style="italic" font-size="15">,</text><text x="261.80" y="180" font-style="italic" textLength="8.1" lengthAdjust="spacingAndGlyphs">E</text><text x="270.50" y="182.6" font-size="10">F</text><path d="M278.20,174.20 h10 M278.20,177.40 h10" stroke="#000" stroke-width="0.95" fill="none"/><text x="294.00" y="180" textLength="34.6" lengthAdjust="spacing">0.180</text><text x="333.30" y="180" textLength="14.8" lengthAdjust="spacingAndGlyphs">eV</text></g>
<g font-size="14.2" stroke="#000" stroke-width="0.28"><text x="208.40" y="198" font-style="italic" font-size="14.9">θ</text><text x="216.50" y="200.6" font-size="10">i</text><path d="M224.80,192.20 h10 M224.80,195.40 h10" stroke="#000" stroke-width="0.95" fill="none"/><text x="240.20" y="198" letter-spacing="0.6">60</text><circle cx="258.50" cy="190.00" r="1.4" fill="none" stroke="#000" stroke-width="0.9"/><text x="260.46" y="198" font-style="italic" font-size="15">,</text><text x="269.90" y="198" font-style="italic" textLength="8.1" lengthAdjust="spacingAndGlyphs">E</text><text x="278.60" y="200.6" font-size="10">F</text><path d="M286.30,192.20 h10 M286.30,195.40 h10" stroke="#000" stroke-width="0.95" fill="none"/><text x="302.10" y="198" textLength="34.6" lengthAdjust="spacing">0.254</text><text x="341.40" y="198" textLength="14.8" lengthAdjust="spacingAndGlyphs">eV</text></g>
<g font-size="14.2" stroke="#000" stroke-width="0.28"><text x="208.40" y="215.7" font-style="italic" font-size="14.9">θ</text><text x="216.50" y="218.29999999999998" font-size="10">i</text><path d="M224.80,209.90 h10 M224.80,213.10 h10" stroke="#000" stroke-width="0.95" fill="none"/><text x="240.20" y="215.7" letter-spacing="0.6">85</text><circle cx="258.50" cy="207.70" r="1.4" fill="none" stroke="#000" stroke-width="0.9"/><text x="260.46" y="215.7" font-style="italic" font-size="15">,</text><text x="269.90" y="215.7" font-style="italic" textLength="8.1" lengthAdjust="spacingAndGlyphs">E</text><text x="278.60" y="218.29999999999998" font-size="10">F</text><path d="M286.30,209.90 h10 M286.30,213.10 h10" stroke="#000" stroke-width="0.95" fill="none"/><text x="302.10" y="215.7" textLength="26.0" lengthAdjust="spacing">0.61</text><text x="333.50" y="215.7" textLength="14.8" lengthAdjust="spacingAndGlyphs">eV</text></g>
<g font-size="14.2" stroke="#000" stroke-width="0.28"><text x="241.80" y="242.9" font-style="italic" font-size="14.9">θ</text><text x="249.90" y="245.5" font-size="10">i</text><path d="M258.20,237.10 h10 M258.20,240.30 h10" stroke="#000" stroke-width="0.95" fill="none"/><text x="273.60" y="242.9" letter-spacing="0">0</text><circle cx="283.10" cy="234.90" r="1.4" fill="none" stroke="#000" stroke-width="0.9"/><text x="285.50" y="242.9" font-style="italic" font-size="15">,</text><text x="295.20" y="242.9" font-style="italic" textLength="8.1" lengthAdjust="spacingAndGlyphs">E</text><text x="303.90" y="245.5" font-size="10">F</text><path d="M311.60,237.10 h10 M311.60,240.30 h10" stroke="#000" stroke-width="0.95" fill="none"/><text x="327.40" y="242.9" textLength="34.6" lengthAdjust="spacing">0.180</text><text x="366.70" y="242.9" textLength="14.8" lengthAdjust="spacingAndGlyphs">eV</text></g>
<g font-size="14.2" stroke="#000" stroke-width="0.28"><text x="241.80" y="260.1" font-style="italic" font-size="14.9">θ</text><text x="249.90" y="262.70000000000005" font-size="10">i</text><path d="M258.20,254.30 h10 M258.20,257.50 h10" stroke="#000" stroke-width="0.95" fill="none"/><text x="273.60" y="260.1" letter-spacing="0.6">60</text><circle cx="291.90" cy="252.10" r="1.4" fill="none" stroke="#000" stroke-width="0.9"/><text x="293.86" y="260.1" font-style="italic" font-size="15">,</text><text x="303.30" y="260.1" font-style="italic" textLength="8.1" lengthAdjust="spacingAndGlyphs">E</text><text x="312.00" y="262.70000000000005" font-size="10">F</text><path d="M319.70,254.30 h10 M319.70,257.50 h10" stroke="#000" stroke-width="0.95" fill="none"/><text x="335.50" y="260.1" textLength="34.6" lengthAdjust="spacing">0.254</text><text x="374.80" y="260.1" textLength="14.8" lengthAdjust="spacingAndGlyphs">eV</text></g>
<g font-size="14.2" stroke="#000" stroke-width="0.28"><text x="240.30" y="276.5" font-style="italic" font-size="14.9">θ</text><text x="248.40" y="279.1" font-size="10">i</text><path d="M256.70,270.70 h10 M256.70,273.90 h10" stroke="#000" stroke-width="0.95" fill="none"/><text x="272.10" y="276.5" letter-spacing="0.6">85</text><circle cx="290.40" cy="268.50" r="1.4" fill="none" stroke="#000" stroke-width="0.9"/><text x="292.36" y="276.5" font-style="italic" font-size="15">,</text><text x="301.80" y="276.5" font-style="italic" textLength="8.1" lengthAdjust="spacingAndGlyphs">E</text><text x="310.50" y="279.1" font-size="10">F</text><path d="M318.20,270.70 h10 M318.20,273.90 h10" stroke="#000" stroke-width="0.95" fill="none"/><text x="334.00" y="276.5" textLength="26.0" lengthAdjust="spacing">0.61</text><text x="365.40" y="276.5" textLength="14.8" lengthAdjust="spacingAndGlyphs">eV</text></g>
</g>
<g fill="#808080"><path d="M184.70,172.40 L192.90,172.40 L188.80,180.00Z"/></g><g fill="#ff0000"><path d="M184.25,191.30 L188.80,186.95 L193.35,191.30 L188.80,195.65Z"/></g><g fill="#0000ff"><path d="M191.20,203.80 L191.20,212.20 L183.40,208.00Z"/></g>
<line x1="194.5" y1="240" x2="225" y2="240" stroke="#808080" stroke-width="2.0"/>
<line x1="194.5" y1="257" x2="225" y2="257" stroke="#ff0000" stroke-width="2.0"/>
<line x1="194.5" y1="273.6" x2="225" y2="273.6" stroke="#0000ff" stroke-width="2.4"/>
</svg>
</body></html>
